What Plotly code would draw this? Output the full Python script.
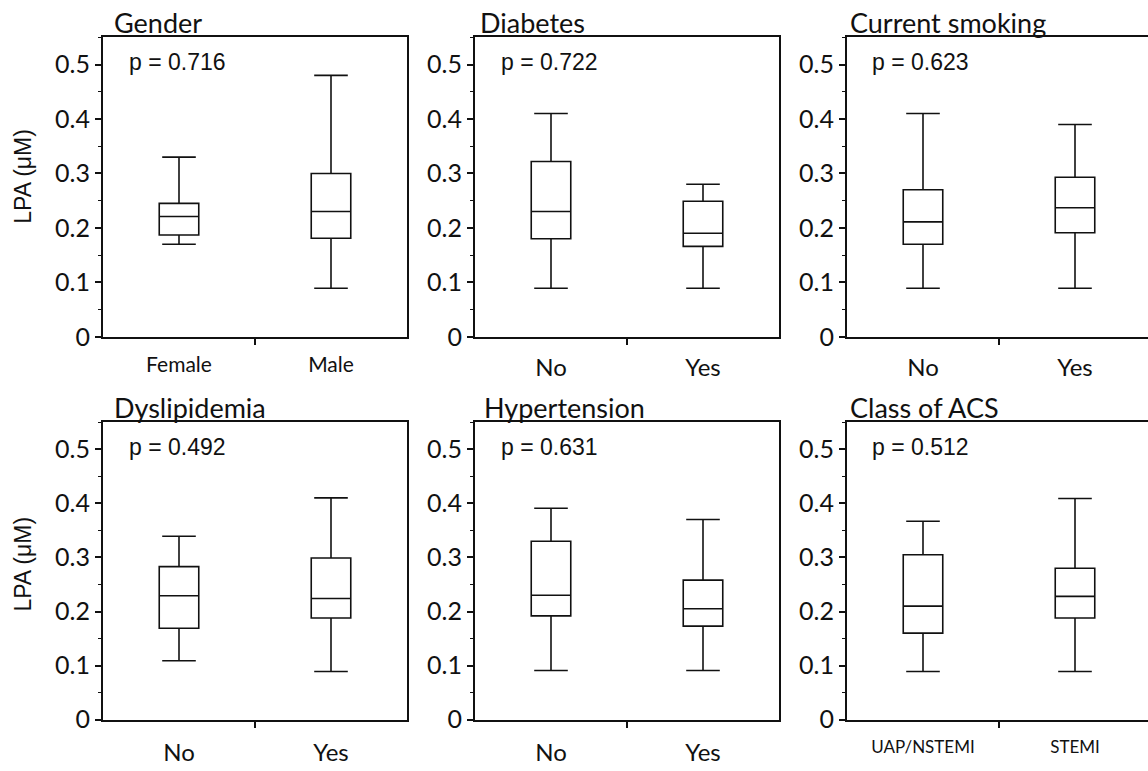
import plotly.graph_objects as go

W, H = 1148, 771

# ---- data ----
panel_titles = ["Gender", "Diabetes", "Current smoking",
                "Dyslipidemia", "Hypertension", "Class of ACS"]
p_values = ["p = 0.716", "p = 0.722", "p = 0.623",
            "p = 0.492", "p = 0.631", "p = 0.512"]
group_labels = [["Female", "Male"], ["No", "Yes"], ["No", "Yes"],
                ["No", "Yes"], ["No", "Yes"], ["UAP/NSTEMI", "STEMI"]]
lower_whisker = [[0.17, 0.089], [0.089, 0.089], [0.089, 0.089],
                 [0.109, 0.089], [0.091, 0.091], [0.089, 0.089]]
q1_values = [[0.187, 0.181], [0.180, 0.166], [0.170, 0.191],
             [0.169, 0.188], [0.192, 0.173], [0.160, 0.188]]
median_values = [[0.221, 0.230], [0.230, 0.190], [0.211, 0.237],
                 [0.229, 0.224], [0.230, 0.205], [0.210, 0.228]]
q3_values = [[0.245, 0.300], [0.322, 0.249], [0.270, 0.293],
             [0.283, 0.299], [0.330, 0.258], [0.305, 0.280]]
upper_whisker = [[0.330, 0.480], [0.410, 0.280], [0.410, 0.390],
                 [0.339, 0.410], [0.391, 0.370], [0.367, 0.409]]
y_ticks = [0, 0.1, 0.2, 0.3, 0.4, 0.5]
y_tick_text = ["0", "0.1", "0.2", "0.3", "0.4", "0.5"]
y_title = "LPA (μM)"

# ---- layout geometry (pixels) ----
col_left = [103, 475, 847]
panel_w = 304
row_top = [38, 430]
row_bottom = [343, 733]
title_dx = [9, 3, 1, 9, 7, 1]
title_y = [23, 415]
xlabel_size = [21, 24, 24, 24, 24, 17]

TICK_FONT = "Lato, 'Open Sans', sans-serif"
ARIAL = "'Liberation Sans', Arial, sans-serif"
INK = "#111111"

fig = go.Figure()
annotations = []

for i in range(6):
    r, c = divmod(i, 3)
    ax = "" if i == 0 else str(i + 1)
    x0 = col_left[c] / W
    x1 = min((col_left[c] + panel_w) / W, 1.0)
    xr_hi = -0.5 + 2.0 * ((x1 * W) - col_left[c]) / panel_w
    y0 = 1 - row_bottom[r] / H
    y1 = 1 - row_top[r] / H

    fig.add_trace(go.Box(
        x=[0, 1],
        q1=q1_values[i], median=median_values[i], q3=q3_values[i],
        lowerfence=lower_whisker[i], upperfence=upper_whisker[i],
        width=0.26, whiskerwidth=0.85,
        fillcolor="white", line=dict(color=INK, width=1.6),
        boxpoints=False, showlegend=False, hoverinfo="skip",
        xaxis="x" + ax, yaxis="y" + ax,
    ))

    fig.layout["xaxis" + ax] = dict(
        domain=[x0, x1], anchor="y" + ax, range=[-0.5, xr_hi],
        showline=True, linecolor=INK, linewidth=2, mirror=True,
        showgrid=False, zeroline=False,
        tickmode="array", tickvals=[0, 1], ticktext=group_labels[i],
        ticks="", ticklabelstandoff=8 if r == 0 else 11,
        tickfont=dict(family=TICK_FONT, size=xlabel_size[i], color=INK),
        minor=dict(tickmode="array", tickvals=[0.5], ticks="outside",
                   ticklen=6, tickwidth=1.5, tickcolor=INK, showgrid=False),
        fixedrange=True,
    )
    fig.layout["yaxis" + ax] = dict(
        domain=[y0, y1], anchor="x" + ax, range=[0, 0.55],
        showline=True, linecolor=INK, linewidth=2, mirror=(c != 2),
        showgrid=False, zeroline=False,
        tickmode="array", tickvals=y_ticks, ticktext=y_tick_text,
        ticks="outside", ticklen=6, tickwidth=1.5, tickcolor=INK,
        tickfont=dict(family=TICK_FONT, size=25, color=INK),
        minor=dict(tickmode="linear", tick0=0.05, dtick=0.1, ticks="outside",
                   ticklen=3, tickwidth=1.2, tickcolor=INK, showgrid=False),
        fixedrange=True,
    )

    # panel title
    annotations.append(dict(
        text=panel_titles[i], xref="paper", yref="paper",
        x=(col_left[c] + title_dx[i]) / W, y=1 - title_y[r] / H,
        xanchor="left", yanchor="middle", showarrow=False,
        font=dict(family=TICK_FONT, size=27, color=INK),
    ))
    # p-value
    annotations.append(dict(
        text=p_values[i], xref="x" + ax + " domain", yref="y" + ax,
        x=0.078, y=0.505, xanchor="left", yanchor="middle", showarrow=False,
        font=dict(family=ARIAL, size=23, color=INK),
    ))

# y-axis titles (left column only)
for r, yc in enumerate([180, 575]):
    annotations.append(dict(
        text=y_title, xref="paper", yref="paper",
        x=23 / W, y=1 - yc / H, xanchor="center", yanchor="middle",
        textangle=-90, showarrow=False,
        font=dict(family=ARIAL, size=23, color=INK),
    ))

fig.update_layout(
    width=W, height=H, margin=dict(l=0, r=0, t=0, b=0),
    paper_bgcolor="white", plot_bgcolor="white",
    annotations=annotations, showlegend=False,
)

fig.write_html("out.html", config={"displayModeBar": False})
